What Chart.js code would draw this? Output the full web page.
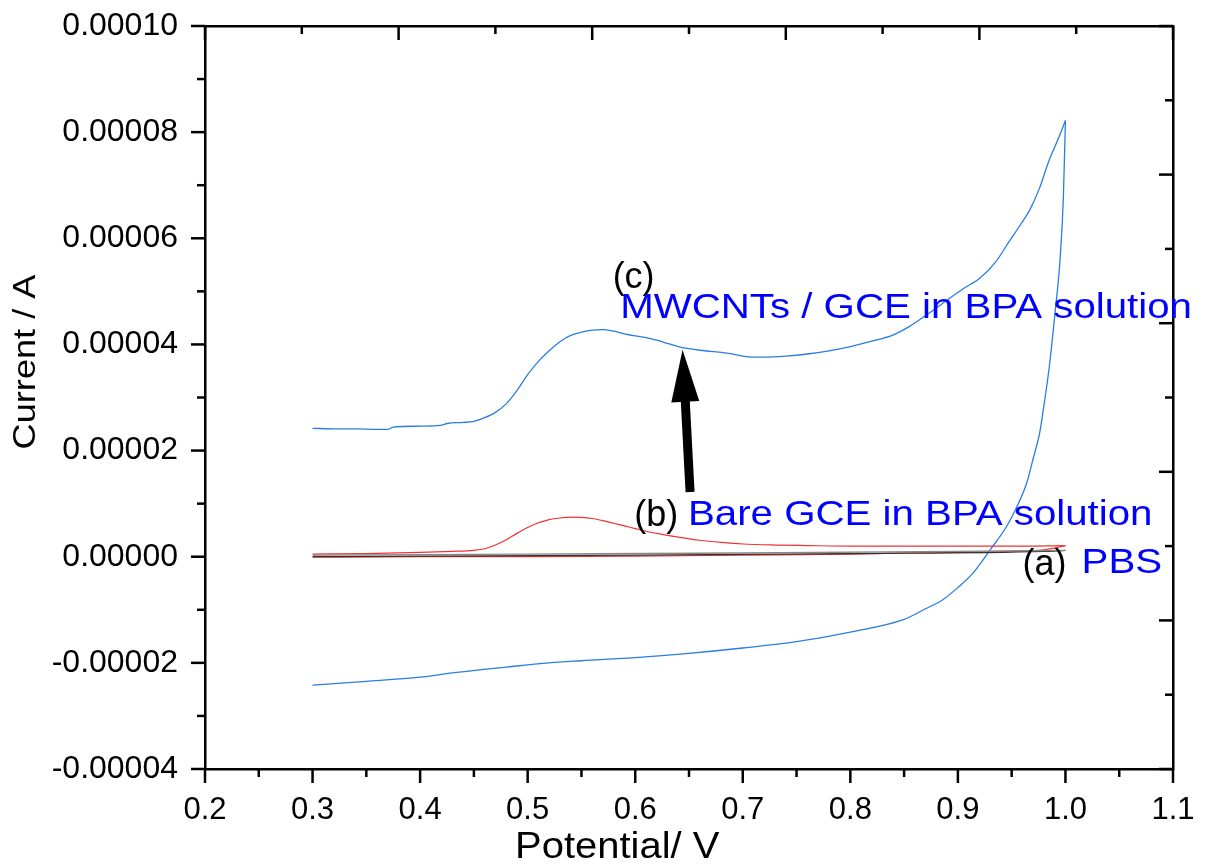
<!DOCTYPE html>
<html>
<head>
<meta charset="utf-8">
<script src="https://cdn.jsdelivr.net/npm/chart.js@4.4.1/dist/chart.umd.min.js"></script>
<style>
  html, body { margin: 0; padding: 0; background: #fff; }
  #wrap { width: 1207px; height: 865px; }
</style>
</head>
<body>
<div id="wrap"><canvas id="cvChart" width="1207" height="865"></canvas></div>
<script>
// AXIS TICKS
const xTicks = [0.2, 0.3, 0.4, 0.5, 0.6, 0.7, 0.8, 0.9, 1.0, 1.1];
const yTicks = [-0.00004, -0.00002, 0, 0.00002, 0.00004, 0.00006, 0.00008, 0.0001];
const frameTicks = [0, 1, 2, 3, 4, 5]; // top / right axes use their own spacing

// (c) MWCNTs / GCE in BPA solution
const mwcntFwdPotential = [
  0.30, 0.32, 0.34, 0.36, 0.37, 0.375, 0.40, 0.42, 0.425, 0.44, 0.45, 0.46, 0.47, 0.48, 0.49,
  0.50, 0.51, 0.52, 0.53, 0.54, 0.55, 0.56, 0.57, 0.58, 0.59, 0.60, 0.61, 0.62, 0.63, 0.64,
  0.65, 0.66, 0.67, 0.68, 0.69, 0.70, 0.71, 0.72, 0.74, 0.76, 0.78, 0.80, 0.82, 0.84, 0.855,
  0.874, 0.893, 0.905, 0.92, 0.935, 0.948, 0.958, 0.967, 0.976, 0.985, 0.993, 1.00
];
const mwcntFwdCurrent = [
  2.42e-5, 2.41e-5, 2.41e-5, 2.40e-5, 2.40e-5, 2.44e-5, 2.46e-5, 2.48e-5, 2.51e-5, 2.53e-5, 2.55e-5, 2.62e-5, 2.72e-5, 2.88e-5, 3.13e-5,
  3.43e-5, 3.68e-5, 3.88e-5, 4.05e-5, 4.17e-5, 4.23e-5, 4.27e-5, 4.28e-5, 4.25e-5, 4.20e-5, 4.16e-5, 4.13e-5, 4.08e-5, 4.02e-5, 3.96e-5,
  3.92e-5, 3.89e-5, 3.87e-5, 3.85e-5, 3.82e-5, 3.78e-5, 3.76e-5, 3.76e-5, 3.78e-5, 3.82e-5, 3.88e-5, 3.96e-5, 4.06e-5, 4.18e-5, 4.34e-5,
  4.60e-5, 4.88e-5, 5.05e-5, 5.24e-5, 5.55e-5, 5.95e-5, 6.25e-5, 6.54e-5, 6.95e-5, 7.48e-5, 7.86e-5, 8.22e-5
];
const mwcntRevPotential = [
  1.00, 0.998, 0.995, 0.99, 0.985, 0.98, 0.976, 0.97, 0.964, 0.955, 0.945, 0.93, 0.914, 0.90, 0.886,
  0.87, 0.85, 0.80, 0.75, 0.70, 0.65, 0.60, 0.55, 0.52, 0.48, 0.43, 0.40, 0.35, 0.30
];
const mwcntRevCurrent = [
  8.22e-5, 6.73e-5, 5.60e-5, 4.53e-5, 3.58e-5, 2.85e-5, 2.33e-5, 1.85e-5, 1.39e-5, 0.95e-5, 0.56e-5, 0.13e-5, -0.31e-5, -0.58e-5, -0.81e-5,
  -0.98e-5, -1.18e-5, -1.42e-5, -1.60e-5, -1.72e-5, -1.82e-5, -1.90e-5, -1.96e-5, -2.00e-5, -2.08e-5, -2.19e-5, -2.27e-5, -2.35e-5, -2.42e-5
];

// (b) Bare GCE in BPA solution
const bareFwdPotential = [
  0.30, 0.35, 0.40, 0.43, 0.45, 0.46, 0.47, 0.48, 0.49, 0.50, 0.51, 0.52, 0.53, 0.54, 0.55, 0.56,
  0.57, 0.58, 0.59, 0.60, 0.61, 0.62, 0.64, 0.66, 0.68, 0.70, 0.73, 0.76, 0.80, 0.85, 0.90, 0.95, 1.00
];
const bareFwdCurrent = [
  0.5e-6, 0.6e-6, 0.8e-6, 1.0e-6, 1.2e-6, 1.5e-6, 2.2e-6, 3.2e-6, 4.4e-6, 5.5e-6, 6.4e-6, 7.0e-6, 7.3e-6, 7.45e-6, 7.4e-6, 7.2e-6,
  6.8e-6, 6.3e-6, 5.8e-6, 5.3e-6, 4.8e-6, 4.4e-6, 3.7e-6, 3.1e-6, 2.7e-6, 2.4e-6, 2.2e-6, 2.1e-6, 2.0e-6, 2.0e-6, 2.0e-6, 2.0e-6, 2.1e-6
];
const bareRevPotential = [1.00, 0.98, 0.95, 0.90, 0.85, 0.80, 0.70, 0.60, 0.50, 0.40, 0.30];
const bareRevCurrent = [2.1e-6, 1.3e-6, 1.0e-6, 0.8e-6, 0.7e-6, 0.5e-6, 0.3e-6, 0.1e-6, 0.0, 0.0, -0.1e-6];

// (a) PBS
const pbsFwdPotential = [0.30, 0.50, 0.70, 0.90, 1.00];
const pbsFwdCurrent = [0.3e-6, 0.5e-6, 0.7e-6, 1.0e-6, 1.2e-6];
const pbsRevPotential = [1.00, 0.98, 0.80, 0.60, 0.40, 0.30];
const pbsRevCurrent = [1.2e-6, 1.0e-6, 0.6e-6, 0.3e-6, 0.1e-6, 0.0];

// text labels placed in data coordinates (left edge, baseline)
const notes = [
  { text: '(c)', x: 0.579, y: 5.07e-5, color: '#000', size: 36, stretch: 1 },
  { text: 'MWCNTs / GCE in BPA solution', x: 0.586, y: 4.50e-5, color: '#0000ff', size: 35, stretch: 1.15 },
  { text: '(b)', x: 0.599, y: 0.58e-5, color: '#000', size: 36, stretch: 1 },
  { text: 'Bare GCE in BPA solution', x: 0.649, y: 0.60e-5, color: '#0000ff', size: 35, stretch: 1.15 },
  { text: '(a)', x: 0.960, y: -0.34e-5, color: '#000', size: 36, stretch: 1 },
  { text: 'PBS', x: 1.015, y: -0.305e-5, color: '#0000ff', size: 35, stretch: 1.15 }
];
const arrowFrom = { x: 0.651, y: 1.22e-5 };
const arrowTo = { x: 0.644, y: 3.90e-5 };

const toPoints = (xs, ys) => xs.map((x, i) => ({ x: x, y: ys[i] }));
const FONT = '"Liberation Sans", Arial, sans-serif';

// ticks, arrow and labels
const decorations = {
  id: 'decorations',
  afterDraw(chart) {
    const { ctx, chartArea: a, scales } = chart;
    const line = (x1, y1, x2, y2) => { ctx.beginPath(); ctx.moveTo(x1, y1); ctx.lineTo(x2, y2); ctx.stroke(); };
    ctx.save();
    ctx.strokeStyle = '#000';
    ctx.lineWidth = 2.5;

    // bottom + left: outward, top + right: inward
    xTicks.forEach((v, i) => {
      const px = scales.x.getPixelForValue(v);
      line(px, a.bottom, px, a.bottom + 14);
      if (i < xTicks.length - 1) {
        const m = scales.x.getPixelForValue((v + xTicks[i + 1]) / 2);
        line(m, a.bottom, m, a.bottom + 8);
      }
    });
    yTicks.forEach((v, i) => {
      const py = scales.y.getPixelForValue(v);
      line(a.left, py, a.left - 14, py);
      if (i < yTicks.length - 1) {
        const m = scales.y.getPixelForValue((v + yTicks[i + 1]) / 2);
        line(a.left, m, a.left - 8, m);
      }
    });
    frameTicks.forEach((v, i) => {
      const px = scales.x2.getPixelForValue(v);
      const py = scales.y2.getPixelForValue(v);
      line(px, a.top, px, a.top + 14);
      line(a.right, py, a.right - 14, py);
      if (i < frameTicks.length - 1) {
        const mx = scales.x2.getPixelForValue(v + 0.5);
        const my = scales.y2.getPixelForValue(v + 0.5);
        line(mx, a.top, mx, a.top + 8);
        line(a.right, my, a.right - 8, my);
      }
    });

    // arrow
    const bx = scales.x.getPixelForValue(arrowFrom.x), by = scales.y.getPixelForValue(arrowFrom.y);
    const tx = scales.x.getPixelForValue(arrowTo.x), ty = scales.y.getPixelForValue(arrowTo.y);
    const ang = Math.atan2(ty - by, tx - bx);
    const len = Math.hypot(tx - bx, ty - by);
    ctx.translate(bx, by);
    ctx.rotate(ang);
    ctx.fillStyle = '#000';
    ctx.fillRect(0, -4.5, len - 48, 9);
    ctx.beginPath();
    ctx.moveTo(len, 0);
    ctx.lineTo(len - 52, -14);
    ctx.lineTo(len - 52, 14);
    ctx.closePath();
    ctx.fill();
    ctx.restore();

    // labels
    notes.forEach(n => {
      ctx.save();
      ctx.font = n.size + 'px ' + FONT;
      ctx.fillStyle = n.color;
      ctx.textBaseline = 'alphabetic';
      ctx.translate(scales.x.getPixelForValue(n.x), scales.y.getPixelForValue(n.y));
      ctx.scale(n.stretch, 1);
      ctx.fillText(n.text, 0, 0);
      ctx.restore();
    });

    // axis titles
    ctx.save();
    ctx.fillStyle = '#000';
    ctx.font = '36px ' + FONT;
    ctx.translate(515, 858);
    ctx.scale(1.11, 1);
    ctx.fillText('Potential/ V', 0, 0);
    ctx.restore();

    ctx.save();
    ctx.fillStyle = '#000';
    ctx.font = '32px ' + FONT;
    ctx.textAlign = 'center';
    ctx.translate(35, 362);
    ctx.rotate(-Math.PI / 2);
    ctx.scale(1.13, 1);
    ctx.fillText('Current / A', 0, 0);
    ctx.restore();
  }
};

const cleanTick = v => (Math.abs(v) < 1e-12 ? 0 : v);

const branch = (label, xs, ys, color, width) => ({
  label: label,
  data: toPoints(xs, ys),
  borderColor: color,
  borderWidth: width,
  cubicInterpolationMode: 'monotone'
});

new Chart(document.getElementById('cvChart').getContext('2d'), {
  type: 'scatter',
  data: {
    datasets: [
      branch('(a) PBS', pbsFwdPotential, pbsFwdCurrent, '#888888', 1.3),
      branch('(a) PBS', pbsRevPotential, pbsRevCurrent, '#333333', 1.3),
      branch('(b) Bare GCE', bareFwdPotential, bareFwdCurrent, '#ee3333', 1.2),
      branch('(b) Bare GCE', bareRevPotential, bareRevCurrent, '#ee3333', 1.2),
      branch('(c) MWCNTs / GCE', mwcntFwdPotential, mwcntFwdCurrent, '#2a7de1', 1.3),
      branch('(c) MWCNTs / GCE', mwcntRevPotential, mwcntRevCurrent, '#2a7de1', 1.3)
    ]
  },
  options: {
    responsive: false,
    animation: false,
    devicePixelRatio: 1,
    showLine: true,
    layout: { padding: 0 },
    elements: {
      point: { radius: 0, hoverRadius: 0 },
      line: { fill: false }
    },
    plugins: {
      legend: { display: false },
      tooltip: { enabled: false }
    },
    scales: {
      x: {
        type: 'linear',
        position: 'bottom',
        min: 0.2,
        max: 1.1,
        afterBuildTicks: s => { s.ticks = xTicks.map(v => ({ value: v })); },
        afterFit: s => { s.height = 96; s.paddingLeft = 0; s.paddingRight = 0; },
        grid: { display: false },
        border: { display: true, color: '#000', width: 2.5 },
        ticks: {
          color: '#000',
          padding: 15,
          maxRotation: 0,
          font: { family: FONT, size: 31 },
          callback: v => v.toFixed(1)
        }
      },
      x2: {
        type: 'linear',
        position: 'top',
        min: 0,
        max: 5,
        afterFit: s => { s.height = 26; s.paddingLeft = 0; s.paddingRight = 0; },
        grid: { display: false },
        border: { display: true, color: '#000', width: 2.5 },
        ticks: { display: false }
      },
      y: {
        type: 'linear',
        position: 'left',
        min: -0.00004,
        max: 0.0001,
        afterBuildTicks: s => { s.ticks = yTicks.map(v => ({ value: v })); },
        afterFit: s => { s.width = 205; s.paddingTop = 0; s.paddingBottom = 0; },
        grid: { display: false },
        border: { display: true, color: '#000', width: 2.5 },
        ticks: {
          color: '#000',
          padding: 19,
          font: { family: FONT, size: 32 },
          callback: v => cleanTick(v).toFixed(5)
        }
      },
      y2: {
        type: 'linear',
        position: 'right',
        min: 0,
        max: 5,
        afterFit: s => { s.width = 34; s.paddingTop = 0; s.paddingBottom = 0; },
        grid: { display: false },
        border: { display: true, color: '#000', width: 2.5 },
        ticks: { display: false }
      }
    }
  },
  plugins: [decorations]
});
</script>
</body>
</html>
